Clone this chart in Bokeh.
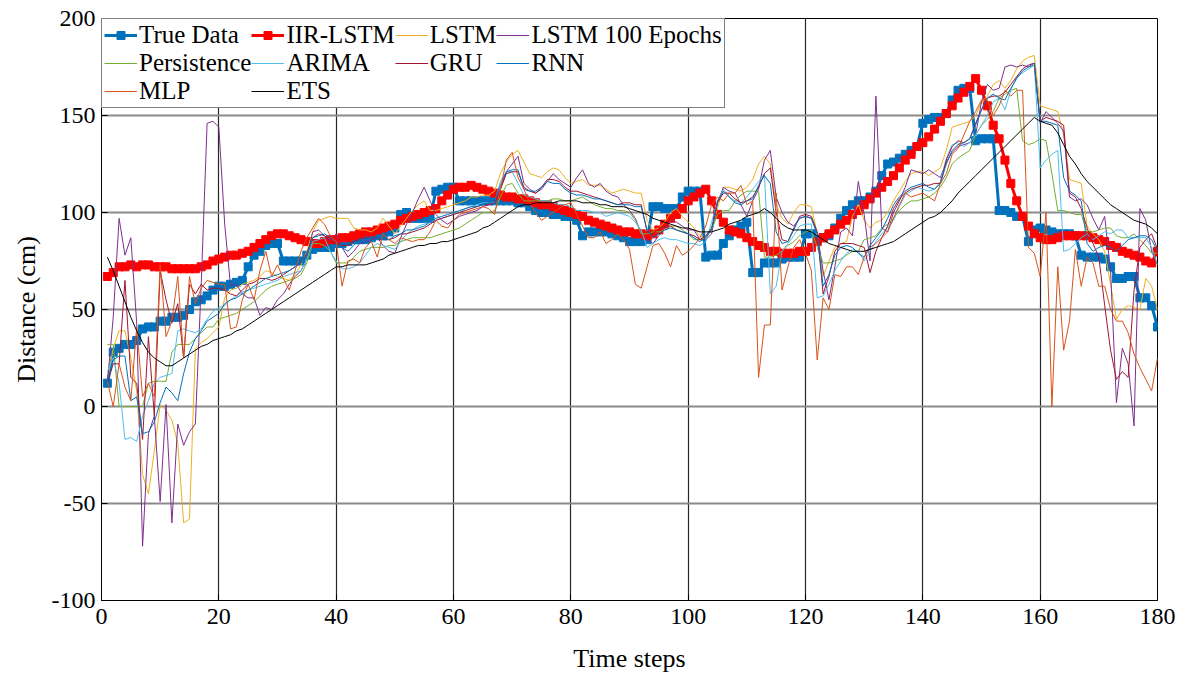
from bokeh.plotting import figure
from bokeh.models import Range1d, FixedTicker
from bokeh.embed import file_html
from bokeh.resources import INLINE

steps = list(range(1, 181))

true_data = [12,28,30,32,32,34,40,41,41,44, 44,46,46,47,50,54,55,57,60,62,
             62,63,64,65,72,78,80,83,84,84, 75,75,75,75,78,81,82,82,82,84,
             84,85,86,86,86,87,88,88,90,92, 99,100,97,97,97,97,111,112,113,113,
             106,106,106,106,106,106,106,106,106,106, 105,105,103,101,100,100,99,99,98,98,
             96,88,90,90,90,90,89,88,87,85, 85,85,86,103,103,102,102,102,108,111,
             111,111,77,78,78,84,88,91,93,95, 69,69,74,74,74,76,77,77,77,89,
             89,86,87,88,92,97,101,104,106,106, 108,111,119,125,126,128,130,132,134,146,
             148,149,149,151,158,163,164,164,137,138, 138,138,101,101,100,98,98,85,91,92,
             91,90,89,89,89,88,78,77,77,77, 76,72,66,66,67,67,56,56,52,41]

iir_lstm = [67,69,72,72,73,72,73,73,72,72, 72,71,71,71,71,71,72,73,75,76,
            77,78,78,79,80,82,84,86,88,89, 89,88,87,86,85,84,84,85,86,86,
            87,87,88,89,90,90,91,92,93,94, 96,97,98,99,100,101,102,106,109,112,
            113,113,114,113,112,111,110,109,108,108, 107,107,106,105,104,104,103,102,101,100,
            99,98,96,95,94,93,92,91,90,90, 89,89,88,89,91,94,97,99,102,106,
            108,110,112,106,99,95,91,90,89,87, 85,83,82,80,80,79,79,79,80,80,
            82,85,87,89,91,94,96,99,101,104, 107,110,113,116,119,123,127,130,134,136,
            139,143,147,151,155,159,162,165,169,163, 155,145,138,127,115,106,98,93,89,87,
            86,86,87,88,88,88,88,88,87,86, 85,83,82,80,79,78,77,75,74,80]

lstm = [13,30,39,39,25,8,-35,-45,-23,1, -2,-7,-19,-60,-58,30,33,35,38,41,
        56,60,61,63,64,65,67,70,69,67, 66,65,68,73,80,90,96,97,98,97,
        97,97,92,91,91,90,92,97,93,89, 93,97,101,104,106,101,101,102,103,104,
        105,106,108,108,109,109,111,120,126,130, 132,126,120,119,118,121,123,122,118,115,
        116,117,114,114,114,112,110,111,112,111, 110,110,96,91,92,95,100,102,98,95,
        92,88,86,92,102,113,113,112,111,113, 117,125,129,125,104,97,94,100,104,104,
        103,89,67,75,82,84,85,98,104,96, 92,95,96,100,106,111,116,120,121,121,
        119,121,123,132,144,145,146,147,150,157, 160,166,168,164,168,174,178,180,181,155,
        154,153,152,140,117,116,115,93,89,86, 80,63,45,50,52,51,50,66,62,50]

lstm100 = [12,46,97,78,87,43,-72,-14,-5,-49, 1,-60,-9,-20,-13,-9,63,146,147,144,
           94,62,63,58,56,56,47,51,50,55, 58,63,67,70,76,90,91,88,86,89,
           82,77,80,84,85,86,87,83,80,79, 87,94,100,107,113,106,99,96,94,96,
           98,99,100,101,103,104,106,112,121,125, 129,115,112,110,112,116,120,117,115,113,
           118,122,115,113,115,111,109,108,104,101, 97,89,86,84,88,92,96,95,93,91,
           91,86,86,89,105,113,111,110,104,98, 106,112,127,132,108,100,95,93,97,98,
           97,89,70,55,72,90,92,88,116,99, 75,160,92,90,100,106,113,122,121,120,
           122,120,118,126,131,134,135,136,140,157, 166,163,164,175,176,175,176,175,176,146,
           152,149,146,142,108,106,107,104,97,91, 98,70,2,30,22,-10,102,96,80,73]

persistence = [32,32,0,0,0,0,0,12,13,13, 13,28,32,32,32,35,38,41,41,45,
               46,47,48,50,52,54,57,60,62,63, 64,65,66,68,74,84,84,83,80,74,
               74,74,77,80,81,82,82,82,83,83, 85,86,87,87,87,87,88,89,90,91,
               92,94,96,98,100,100,101,108,114,115, 110,106,106,106,106,106,107,107,106,106,
               107,108,106,104,103,102,102,101,101,100, 96,89,89,90,90,91,93,93,91,89,
               86,86,88,91,99,101,101,106,109,111, 111,111,77,77,78,80,83,85,88,90,
               91,82,74,74,75,76,78,80,80,86, 87,88,92,94,97,101,104,106,106,107,
               108,110,113,118,125,128,130,132,140,145, 148,152,159,161,163,164,137,135,136,138,
               137,120,101,101,100,99,99,90,90,91, 92,92,88,87,87,89,86,83,79,79]

arima = [18,25,12,-17,-16,-18,-5,3,12,15, 16,17,39,40,39,38,40,45,49,51,
         52,55,57,59,60,61,62,63,64,65, 67,68,69,70,76,85,86,87,80,75,
         71,71,72,74,78,82,84,83,82,81, 85,89,91,93,94,95,96,97,98,99,
         100,102,103,104,105,105,105,116,121,121, 115,109,108,107,106,106,105,104,104,103,
         101,101,101,100,100,98,99,100,99,98, 95,91,82,84,86,87,86,86,85,84,
         84,83,85,95,106,112,108,106,105,108, 112,116,120,58,62,80,84,88,93,94,
         94,56,57,63,70,75,79,81,80,75, 80,85,89,92,96,103,109,111,113,112,
         111,112,116,128,135,136,134,136,140,145, 150,157,159,153,163,170,172,174,176,123,
         127,130,132,80,81,84,87,89,86,88, 90,89,91,91,87,87,87,87,82,73]

gru = [12,22,22,65,15,12,-17,36,-5,70, 55,43,53,25,63,58,63,60,61,61,
       60,58,57,60,63,64,66,66,65,66, 68,70,72,74,79,87,89,88,85,84,
       83,83,85,86,87,87,87,86,86,87, 89,89,90,91,92,94,96,97,98,99,
       100,101,102,103,104,104,105,112,120,121, 121,113,111,110,113,117,117,116,113,111,
       111,110,109,108,107,106,105,104,105,105, 104,104,90,89,92,93,93,91,90,89,
       88,86,88,92,105,110,110,107,105,106, 108,113,120,123,100,86,85,91,98,99,
       98,90,58,67,80,84,84,84,83,82, 69,80,87,93,102,107,110,112,113,114,
       114,115,115,127,134,137,136,138,146,153, 159,160,160,162,166,170,174,176,177,147,
       149,148,147,145,110,108,102,92,84,77, 52,29,14,18,15,60,82,86,89,81]

rnn = [13,24,26,26,3,5,-14,-13,-8,2, 10,7,3,17,28,35,39,44,46,48,
       53,55,56,58,60,62,64,66,67,68, 69,70,72,74,78,87,88,89,87,85,
       82,80,83,86,86,87,87,86,86,88, 89,91,91,92,93,95,97,98,99,100,
       101,102,103,103,104,105,106,114,121,122, 122,112,111,111,113,116,115,115,112,110,
       109,109,108,107,107,106,105,104,104,104, 103,103,91,87,89,91,92,91,90,89,
       87,85,87,91,106,111,108,105,104,106, 107,114,119,115,90,84,85,92,97,98,
       97,89,62,68,78,82,83,82,79,77, 83,87,91,97,104,108,111,113,114,115,
       113,112,115,125,132,135,136,138,145,153, 159,161,159,158,164,169,173,175,177,147,
       147,146,145,118,111,109,106,84,80,82, 83,82,80,83,86,87,88,88,86,80]

mlp = [13,0,22,10,3,41,5,12,5,73, 36,44,67,25,67,53,61,65,64,63,
       63,40,41,55,63,55,70,80,67,73, 66,60,70,80,87,92,97,94,88,85,
       62,75,76,74,82,85,77,89,86,84, 87,86,85,86,86,90,96,93,92,96,
       99,100,101,102,103,102,99,112,127,131, 118,112,105,100,96,98,100,102,104,105,
       99,93,87,87,90,84,86,89,86,81, 63,61,72,83,84,79,72,83,78,80,
       83,87,93,104,108,106,110,110,114,104, 106,15,42,42,110,60,72,82,86,79,
       70,24,56,50,68,67,72,72,68,77, 82,84,87,90,97,104,110,108,109,110,
       108,106,115,120,130,133,140,147,152,158, 158,150,155,163,160,163,163,82,79,67,
       100,0,72,29,44,81,62,77,74,62, 62,50,44,44,38,27,20,14,8,25]

ets = [77,70,62,54,46,39,33,28,25,23, 21,21,23,25,27,29,31,32,34,35,
       36,37,39,40,42,44,46,48,50,52, 54,56,58,60,62,64,66,68,70,72,
       72,73,73,73,73,74,75,76,78,79, 80,81,82,83,83,84,84,85,85,86,
       87,88,89,90,92,93,95,97,99,101, 103,104,104,105,105,105,105,106,106,106,
       106,105,105,105,104,104,103,103,103,102, 101,100,99,97,96,95,94,93,92,92,
       91,90,90,90,91,92,94,95,96,98, 99,100,102,100,97,94,92,91,91,91,
       90,88,86,84,83,82,81,80,80,80, 81,82,83,84,85,87,89,91,93,95,
       97,98,100,103,106,110,113,116,119,122, 125,128,131,134,137,140,143,146,149,147,
       146,145,141,135,129,125,120,116,113,110, 107,104,102,100,98,96,95,94,92,89]

x_ticks = [0, 20, 40, 60, 80, 100, 120, 140, 160, 180]
y_ticks = [-100, -50, 0, 50, 100, 150, 200]
y_tick_text = {t: str(t) for t in y_ticks}

FONT = "Liberation Serif"

p = figure(width=1187, height=679, output_backend="svg", toolbar_location=None,
           x_range=Range1d(0, 180), y_range=Range1d(-100, 200),
           min_border_left=101, min_border_right=30, min_border_top=18, min_border_bottom=79)
p.background_fill_color = "white"
p.border_fill_color = "white"
p.outline_line_color = "black"
p.outline_line_width = 1

p.xaxis.ticker = FixedTicker(ticks=x_ticks)
p.yaxis.ticker = FixedTicker(ticks=y_ticks)
p.yaxis.major_label_overrides = y_tick_text
for ax in (p.xaxis[0], p.yaxis[0]):
    ax.major_label_text_font = FONT
    ax.major_label_text_font_size = "24px"
    ax.major_label_text_color = "black"
    ax.axis_label_text_font = FONT
    ax.axis_label_text_font_size = "26px"
    ax.axis_label_text_font_style = "normal"
    ax.axis_label_text_color = "black"
    ax.axis_line_color = "black"
    ax.major_tick_line_color = "black"
    ax.major_tick_in = 6
    ax.major_tick_out = 0
    ax.minor_tick_line_color = None
p.xaxis.axis_label = "Time steps"
p.yaxis.axis_label = "Distance (cm)"
p.xaxis.major_label_standoff = 8
p.yaxis.major_label_standoff = 6
p.xaxis.axis_label_standoff = 17
p.yaxis.axis_label_standoff = 8

p.xgrid.grid_line_color = "#262626"
p.xgrid.grid_line_width = 1.2
p.ygrid.grid_line_color = "#8a8a8a"
p.ygrid.grid_line_width = 2

p.line(steps, true_data, line_color="#0072BD", line_width=3, legend_label="True Data")
p.scatter(steps, true_data, marker="square", size=8, fill_color="#0072BD", line_color="#0072BD",
          legend_label="True Data")
p.line(steps, iir_lstm, line_color="#FF0000", line_width=3, legend_label="IIR-LSTM")
p.scatter(steps, iir_lstm, marker="square", size=8, fill_color="#FF0000", line_color="#FF0000",
          legend_label="IIR-LSTM")

thin = [("LSTM", lstm, "#EDB120"), ("LSTM 100 Epochs", lstm100, "#7E2F8E"),
        ("Persistence", persistence, "#77AC30"), ("ARIMA", arima, "#4DBEEE"),
        ("GRU", gru, "#A2142F"), ("RNN", rnn, "#0072BD"), ("MLP", mlp, "#D95319"),
        ("ETS", ets, "#000000")]
for name, vals, col in thin:
    p.line(steps, vals, line_color=col, line_width=1, legend_label=name)

lg = p.legend[0]
lg.location = "top_left"
lg.orientation = "horizontal"
lg.ncols = 4
lg.margin = 0
lg.padding = 2
lg.spacing = 0
lg.label_text_font = FONT
lg.label_text_font_size = "25px"
lg.label_text_color = "black"
lg.glyph_width = 33
lg.glyph_height = 20
lg.label_height = 20
lg.label_standoff = 2
lg.border_line_color = "black"
lg.border_line_width = 1
lg.background_fill_alpha = 1

open("out.html", "w").write(file_html(p, INLINE))
